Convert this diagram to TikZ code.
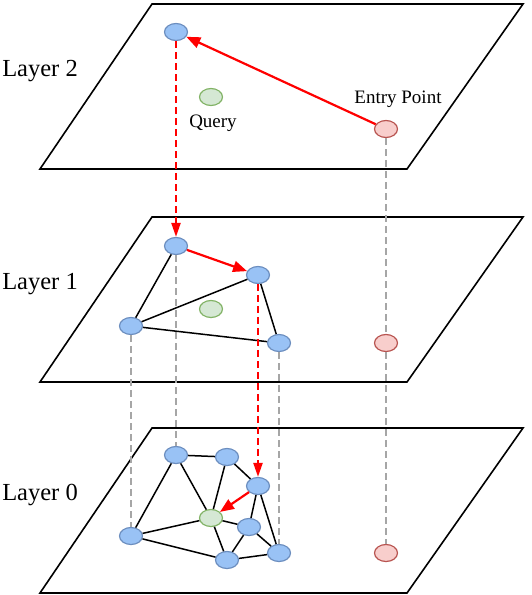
\documentclass[tikz,border=0pt]{standalone}
\usepackage{fontspec}
\setmainfont{Liberation Serif}
\usetikzlibrary{arrows.meta,positioning,shapes.geometric}
\definecolor{nodeblue}{HTML}{99C2F5}
\definecolor{nodeblueline}{HTML}{6C8EBF}
\definecolor{querygreen}{HTML}{D5E8D4}
\definecolor{querygreenline}{HTML}{82B366}
\definecolor{entryred}{HTML}{F8CECC}
\definecolor{entryredline}{HTML}{B85450}
\definecolor{hopred}{HTML}{FF0000}
\definecolor{dropgray}{HTML}{A6A6A6}

\begin{document}
\begin{tikzpicture}[x=1pt,y=-1pt,
  pl/.style={draw,line width=1.6pt},
  v/.style={ellipse,line width=1.2pt,minimum width=23pt,minimum height=17pt,inner sep=0pt},
  bn/.style={v,draw=nodeblueline,fill=nodeblue},
  qn/.style={v,draw=querygreenline,fill=querygreen},
  en/.style={v,draw=entryredline,fill=entryred},
  lbl/.style={font=\fontsize{24.5}{28}\selectfont},
  tag/.style={font=\fontsize{19}{22}\selectfont},
  lk/.style={draw,line width=1.5pt},
  hop/.style={draw=hopred,line width=2.2pt,-{Triangle[length=14pt,width=11pt]}},
  down/.style={draw=hopred,line width=2.2pt,dash pattern=on 7pt off 4pt,-{Triangle[length=14pt,width=9pt]}},
  drop/.style={draw=dropgray,line width=1.6pt,dash pattern=on 7pt off 4pt}
]
\useasboundingbox (0,0) rectangle (532,595);

% planes
\foreach \y/\t in {4/2,217/1,428/0}{
  \draw[pl] (152,\y) -- (523,\y) -- (407,\y+165) -- (40,\y+165) -- cycle;
  \node[lbl] (layer\t) at (40,\y+67) {Layer \t};
}

% layer 2
\node[bn] (t2) at (176,32) {};
\node[qn] (q2) at (211,97) {};
\node[en] (e2) at (386,129) {};
\node[tag] (query) at (213,123) {Query};
\node[tag] (entry) at (398,99) {Entry Point};

% layer 1
\node[bn] (a1) at (176,246) {};
\node[bn] (b1) at (258,275) {};
\node[bn] (c1) at (131,326) {};
\node[bn] (d1) at (279,343) {};
\node[qn] (q1) at (211,309) {};
\node[en] (e1) at (386,343) {};

% layer 0
\node[bn] (a0) at (176,455) {};
\node[bn] (f0) at (227,457) {};
\node[bn] (b0) at (258,486) {};
\node[qn] (q0) at (211,518) {};
\node[bn] (g0) at (249,527) {};
\node[bn] (c0) at (131,536) {};
\node[bn] (h0) at (227,560) {};
\node[bn] (d0) at (279,553) {};
\node[en] (e0) at (386,553) {};

% links between layers
\draw[drop] (e2) -- (e1);
\draw[drop] (e1) -- (e0);
\draw[drop] (a1) -- (a0);
\draw[drop] (c1) -- (c0);
\draw[drop] (d1) -- (d0);

% graph edges
\draw[lk] (a1) -- (c1);
\draw[lk] (c1) -- (b1);
\draw[lk] (b1) -- (d1);
\draw[lk] (c1) -- (d1);
\foreach \s/\e in {a0/f0,a0/c0,a0/q0,f0/q0,f0/b0,b0/g0,b0/d0,q0/g0,q0/h0,c0/q0,c0/h0,g0/h0,g0/d0,h0/d0}
  \draw[lk] (\s) -- (\e);

% search path
\draw[hop] (e2) -- (t2);
\draw[down] (t2) -- (a1);
\draw[hop] (a1) -- (b1);
\draw[down] (b1) -- (b0);
\draw[hop] (b0) -- (q0);
\end{tikzpicture}
\end{document}
